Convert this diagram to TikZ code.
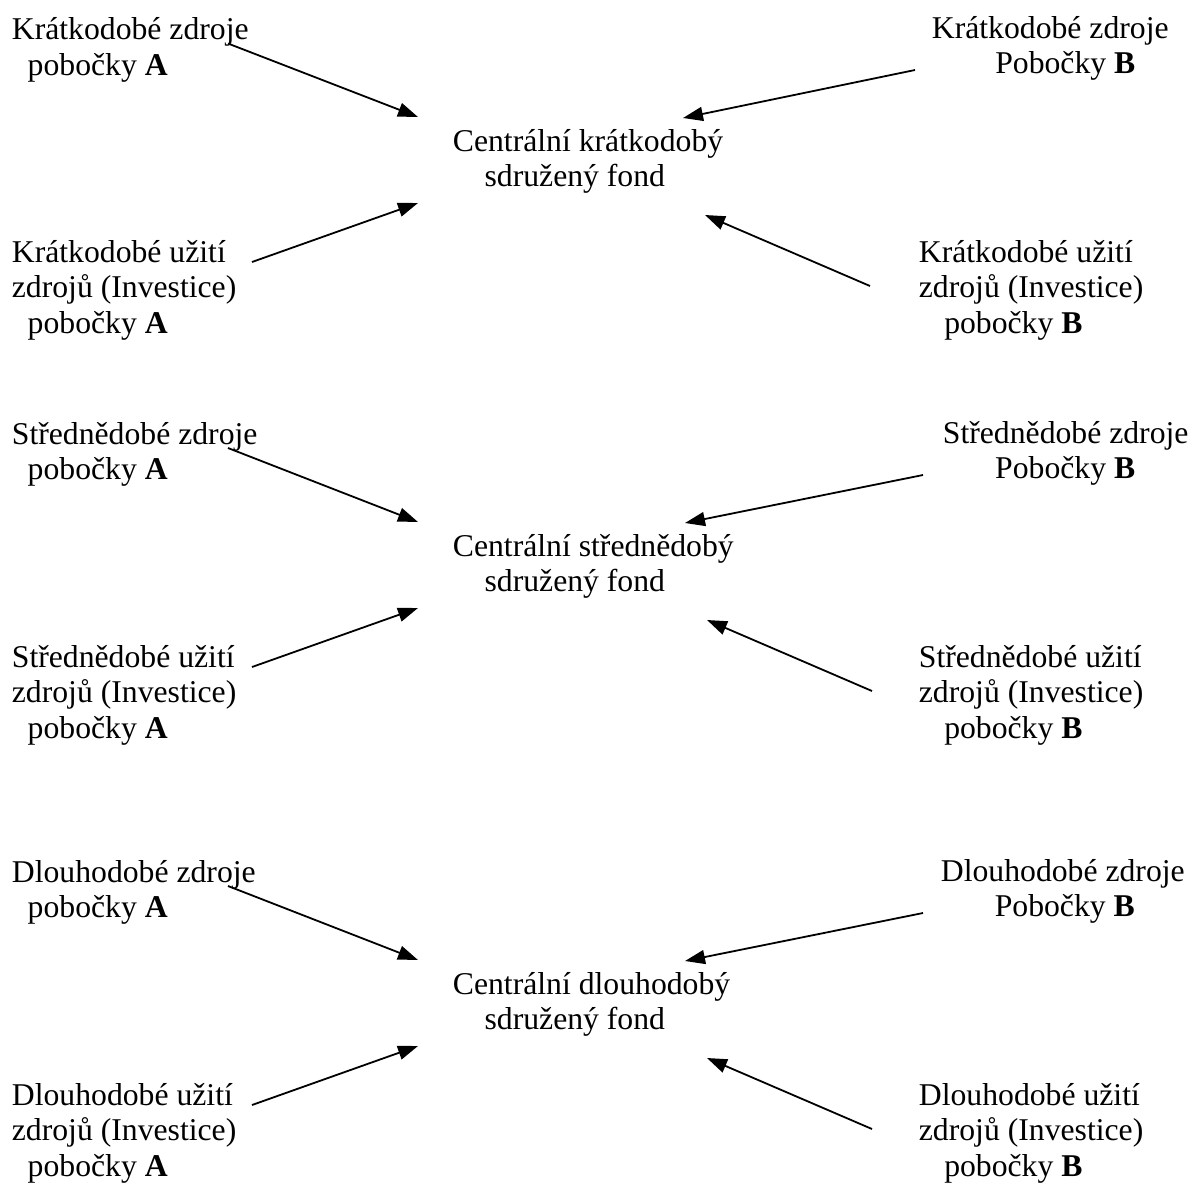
\documentclass[tikz,border=0pt]{standalone}
\usepackage{fontspec}
\setmainfont{Liberation Serif}
\usetikzlibrary{arrows.meta}

\begin{document}
\begin{tikzpicture}[->,>={Triangle[length=10pt,width=7pt]},x=0.5pt,y=-0.5pt,
  line width=0.9pt,
  fund node/.style={anchor=base west,align=left,inner sep=0pt,
  font=\fontsize{15.85}{17.75}\selectfont}]

  \useasboundingbox (0,0) rectangle (1190,1185);

  % kratkodobe (nodes sit on the baseline of their last line)
  \node[fund node] (zdrA1) at (11,75) {Krátkodobé zdroje\\\hspace*{0.5em}pobočky \textbf{A}};
  \node[fund node] (uziA1) at (11,333) {Krátkodobé užití\\zdrojů (Investice)\\\hspace*{0.5em}pobočky \textbf{A}};
  \node[fund node] (cen1) at (452,186.5) {Centrální krátkodobý\\\hspace*{1em}sdružený fond};
  \node[fund node] (zdrB1) at (931,73.5) {Krátkodobé zdroje\\\hspace*{2em}Pobočky \textbf{B}};
  \node[fund node] (uziB1) at (918,333) {Krátkodobé užití\\zdrojů (Investice)\\\hspace*{0.8em}pobočky \textbf{B}};

  \draw ([shift={(217,-31.5)}]zdrA1.base west) -- ([shift={(-34,-69.5)}]cen1.base west);
  \draw ([shift={(241,-71)}]uziA1.base west) -- ([shift={(-34,16.5)}]cen1.base west);
  \draw ([shift={(-16,-3.5)}]zdrB1.base west) -- ([shift={(231,-68.5)}]cen1.base west);
  \draw ([shift={(-48,-47)}]uziB1.base west) -- ([shift={(253,28.5)}]cen1.base west);

  % strednedobe
  \node[fund node] (zdrA2) at (11,479.5) {Střednědobé zdroje\\\hspace*{0.5em}pobočky \textbf{A}};
  \node[fund node] (uziA2) at (11,738) {Střednědobé užití\\zdrojů (Investice)\\\hspace*{0.5em}pobočky \textbf{A}};
  \node[fund node] (cen2) at (452,591.5) {Centrální střednědobý\\\hspace*{1em}sdružený fond};
  \node[fund node] (zdrB2) at (942,478.5) {Střednědobé zdroje\\\hspace*{1.65em}Pobočky \textbf{B}};
  \node[fund node] (uziB2) at (918,738) {Střednědobé užití\\zdrojů (Investice)\\\hspace*{0.8em}pobočky \textbf{B}};

  \draw ([shift={(217,-31.5)}]zdrA2.base west) -- ([shift={(-34,-69.5)}]cen2.base west);
  \draw ([shift={(241,-71)}]uziA2.base west) -- ([shift={(-34,16.5)}]cen2.base west);
  \draw ([shift={(-19,-3.5)}]zdrB2.base west) -- ([shift={(233,-68.5)}]cen2.base west);
  \draw ([shift={(-46,-47)}]uziB2.base west) -- ([shift={(255,28.5)}]cen2.base west);

  % dlouhodobe
  \node[fund node] (zdrA3) at (11,917.5) {Dlouhodobé zdroje\\\hspace*{0.5em}pobočky \textbf{A}};
  \node[fund node] (uziA3) at (11,1176) {Dlouhodobé užití\\zdrojů (Investice)\\\hspace*{0.5em}pobočky \textbf{A}};
  \node[fund node] (cen3) at (452,1029.5) {Centrální dlouhodobý\\\hspace*{1em}sdružený fond};
  \node[fund node] (zdrB3) at (940,916.5) {Dlouhodobé zdroje\\\hspace*{1.7em}Pobočky \textbf{B}};
  \node[fund node] (uziB3) at (918,1176) {Dlouhodobé užití\\zdrojů (Investice)\\\hspace*{0.8em}pobočky \textbf{B}};

  \draw ([shift={(217,-31.5)}]zdrA3.base west) -- ([shift={(-34,-69.5)}]cen3.base west);
  \draw ([shift={(241,-71)}]uziA3.base west) -- ([shift={(-34,16.5)}]cen3.base west);
  \draw ([shift={(-17,-3.5)}]zdrB3.base west) -- ([shift={(233,-68.5)}]cen3.base west);
  \draw ([shift={(-46,-47)}]uziB3.base west) -- ([shift={(255,28.5)}]cen3.base west);

\end{tikzpicture}
\end{document}
